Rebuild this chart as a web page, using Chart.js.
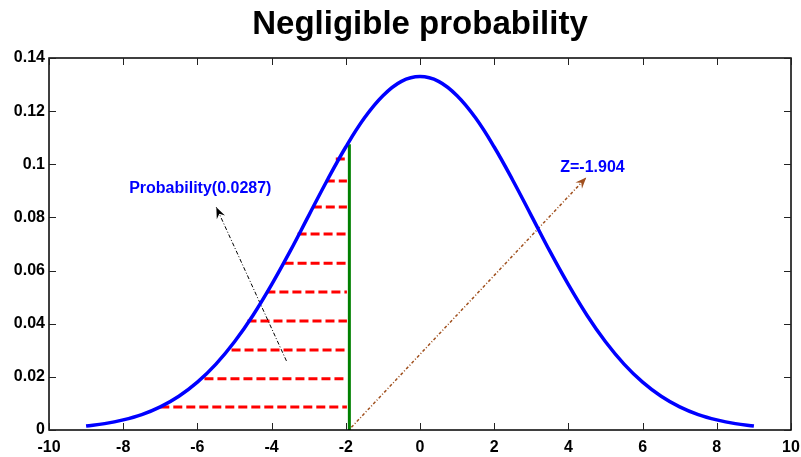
<!DOCTYPE html>
<html>
<head>
<meta charset="utf-8">
<script src="https://cdn.jsdelivr.net/npm/chart.js@4.4.0/dist/chart.umd.min.js"></script>
<style>
	html, body { margin: 0; padding: 0; background: #fff; }
	canvas { display: block; }
</style>
</head>
<body>
<canvas id="myChart" width="801" height="457"></canvas>
<script>
// bell curve
const curveX = [-9, -8.5, -8, -7.5, -7, -6.5, -6, -5.5, -5, -4.5, -4, -3.5, -3, -2.5, -2, -1.5, -1, -0.5, 0,
	0.5, 1, 1.5, 2, 2.5, 3, 3.5, 4, 4.5, 5, 5.5, 6, 6.5, 7, 7.5, 8, 8.5, 9]
const curveY = [0.0015, 0.0024, 0.0038, 0.0058, 0.0087, 0.0127, 0.0180, 0.0248, 0.0332, 0.0432, 0.0547, 0.0673, 0.0807, 0.0940, 0.1065, 0.1174, 0.1258, 0.1312, 0.1330,
	0.1312, 0.1258, 0.1174, 0.1065, 0.0940, 0.0807, 0.0673, 0.0547, 0.0432, 0.0332, 0.0248, 0.0180, 0.0127, 0.0087, 0.0058, 0.0038, 0.0024, 0.0015]

// red hatch lines under the tail
const hatchY = [0.0087, 0.0193, 0.0301, 0.0410, 0.0519, 0.0628, 0.0738, 0.0839, 0.0937, 0.1020]
const hatchXStart = [-7.0, -5.81, -5.08, -4.65, -4.14, -3.65, -3.30, -2.89, -2.54, -2.27]
const hatchXEnd = -1.97

const zValue = -1.904
const zTop = 0.1075

const probArrowX = [-3.60, -5.49]
const probArrowY = [0.026, 0.0838]
const zArrowX = [-1.85, 4.48]
const zArrowY = [0.001, 0.095]

const probLabel = 'Probability(0.0287)'
const probLabelPos = [-7.84, 0.0892]
const zLabel = 'Z=-1.904'
const zLabelPos = [3.78, 0.0972]

const xTicks = [-10, -8, -6, -4, -2, 0, 2, 4, 6, 8, 10]
const yTicks = [0, 0.02, 0.04, 0.06, 0.08, 0.1, 0.12, 0.14]
const yTickLabels = ['0', '0.02', '0.04', '0.06', '0.08', '0.1', '0.12', '0.14']

const FONT = "'Liberation Sans', Arial, Helvetica, sans-serif"

function arrowHead(ctx, x0, y0, x1, y1, color) {
	const a = Math.atan2(y1 - y0, x1 - x0)
	const len = 11, w = 4.5
	const dx = Math.cos(a), dy = Math.sin(a)
	ctx.save()
	ctx.fillStyle = color
	ctx.beginPath()
	ctx.moveTo(x1, y1)
	ctx.lineTo(x1 - len * dx - w * dy, y1 - len * dy + w * dx)
	ctx.lineTo(x1 - 0.65 * len * dx, y1 - 0.65 * len * dy)
	ctx.lineTo(x1 - len * dx + w * dy, y1 - len * dy - w * dx)
	ctx.closePath()
	ctx.fill()
	ctx.restore()
}

const decor = {
	id: 'decor',
	afterDatasetsDraw(chart) {
		const ctx = chart.ctx
		const area = chart.chartArea
		const xs = chart.scales.x
		const ys = chart.scales.y

		// axes box
		ctx.save()
		ctx.strokeStyle = '#000'
		ctx.lineWidth = 1.5
		ctx.strokeRect(area.left, area.top, area.right - area.left, area.bottom - area.top)

		// inward ticks on all sides
		ctx.lineWidth = 1
		ctx.strokeStyle = '#222'
		const tl = 7
		ctx.beginPath()
		xTicks.forEach(v => {
			const px = Math.round(xs.getPixelForValue(v)) + 0.5
			ctx.moveTo(px, area.bottom); ctx.lineTo(px, area.bottom - tl)
			ctx.moveTo(px, area.top); ctx.lineTo(px, area.top + tl)
		})
		yTicks.forEach(v => {
			const py = Math.round(ys.getPixelForValue(v)) + 0.5
			ctx.moveTo(area.left, py); ctx.lineTo(area.left + tl, py)
			ctx.moveTo(area.right, py); ctx.lineTo(area.right - tl, py)
		})
		ctx.stroke()
		ctx.restore()

		// arrow heads
		arrowHead(ctx, xs.getPixelForValue(probArrowX[0]), ys.getPixelForValue(probArrowY[0]),
			xs.getPixelForValue(probArrowX[1]), ys.getPixelForValue(probArrowY[1]), '#000')
		arrowHead(ctx, xs.getPixelForValue(zArrowX[0]), ys.getPixelForValue(zArrowY[0]),
			xs.getPixelForValue(zArrowX[1]), ys.getPixelForValue(zArrowY[1]), '#a0501e')

		// text annotations
		ctx.save()
		ctx.fillStyle = '#0000ff'
		ctx.font = 'bold 16px ' + FONT
		ctx.textAlign = 'left'
		ctx.textBaseline = 'alphabetic'
		ctx.fillText(probLabel, xs.getPixelForValue(probLabelPos[0]), ys.getPixelForValue(probLabelPos[1]))
		ctx.fillText(zLabel, xs.getPixelForValue(zLabelPos[0]), ys.getPixelForValue(zLabelPos[1]))
		ctx.restore()
	}
}

const datasets = []
datasets.push({
	data: curveX.map((x, i) => ({ x: x, y: curveY[i] })),
	borderColor: '#0000ff',
	borderWidth: 3.5,
	pointRadius: 0,
	tension: 0.4,
	order: 0,
})
hatchY.forEach((y, i) => {
	datasets.push({
		data: [{ x: hatchXStart[i], y: y }, { x: hatchXEnd, y: y }],
		borderColor: '#ff0000',
		borderWidth: 3,
		borderDash: [9, 4],
		pointRadius: 0,
		order: 2,
	})
})
datasets.push({
	data: [{ x: zValue, y: 0 }, { x: zValue, y: zTop }],
	borderColor: '#008000',
	borderWidth: 3,
	pointRadius: 0,
	order: 1,
})
datasets.push({
	data: [{ x: probArrowX[0], y: probArrowY[0] }, { x: probArrowX[1], y: probArrowY[1] }],
	borderColor: '#000',
	borderWidth: 1,
	borderDash: [4, 2, 1, 2],
	pointRadius: 0,
	order: 1,
})
datasets.push({
	data: [{ x: zArrowX[0], y: zArrowY[0] }, { x: zArrowX[1], y: zArrowY[1] }],
	borderColor: '#a0501e',
	borderWidth: 1.5,
	borderDash: [3, 2, 1, 2],
	pointRadius: 0,
	order: 1,
})

const tickFont = { family: FONT, size: 16, weight: 'bold' }

const myChart = new Chart(document.getElementById('myChart').getContext('2d'), {
	type: 'line',
	data: { datasets: datasets },
	options: {
		responsive: false,
		animation: false,
		devicePixelRatio: 1,
		layout: { padding: { left: 0, right: 10, top: 0, bottom: 0 } },
		plugins: {
			legend: { display: false },
			tooltip: { enabled: false },
			title: {
				display: true,
				text: 'Negligible probability',
				color: '#000',
				font: { family: FONT, size: 33, weight: 'bold', lineHeight: 1.2 },
				padding: { top: 5, bottom: 13.4 },
				fullSize: false,
			},
		},
		scales: {
			x: {
				type: 'linear',
				min: -10,
				max: 10,
				afterBuildTicks: s => { s.ticks = xTicks.map(v => ({ value: v })) },
				afterFit: s => { s.height = 27; s.paddingLeft = 0; s.paddingRight = 0 },
				grid: { display: false, drawTicks: false },
				border: { display: false },
				ticks: { color: '#000', font: tickFont, padding: 8, maxRotation: 0, autoSkip: false,
					callback: v => String(v) },
			},
			y: {
				type: 'linear',
				min: 0,
				max: 0.14,
				afterBuildTicks: s => { s.ticks = yTicks.map(v => ({ value: v })) },
				afterFit: s => { s.width = 49; s.paddingTop = 0; s.paddingBottom = 0 },
				grid: { display: false, drawTicks: false },
				border: { display: false },
				ticks: { color: '#000', font: tickFont, padding: 4, autoSkip: false,
					callback: (v, i) => yTickLabels[i] },
			},
		},
	},
	plugins: [decor],
})
</script>
</body>
</html>
